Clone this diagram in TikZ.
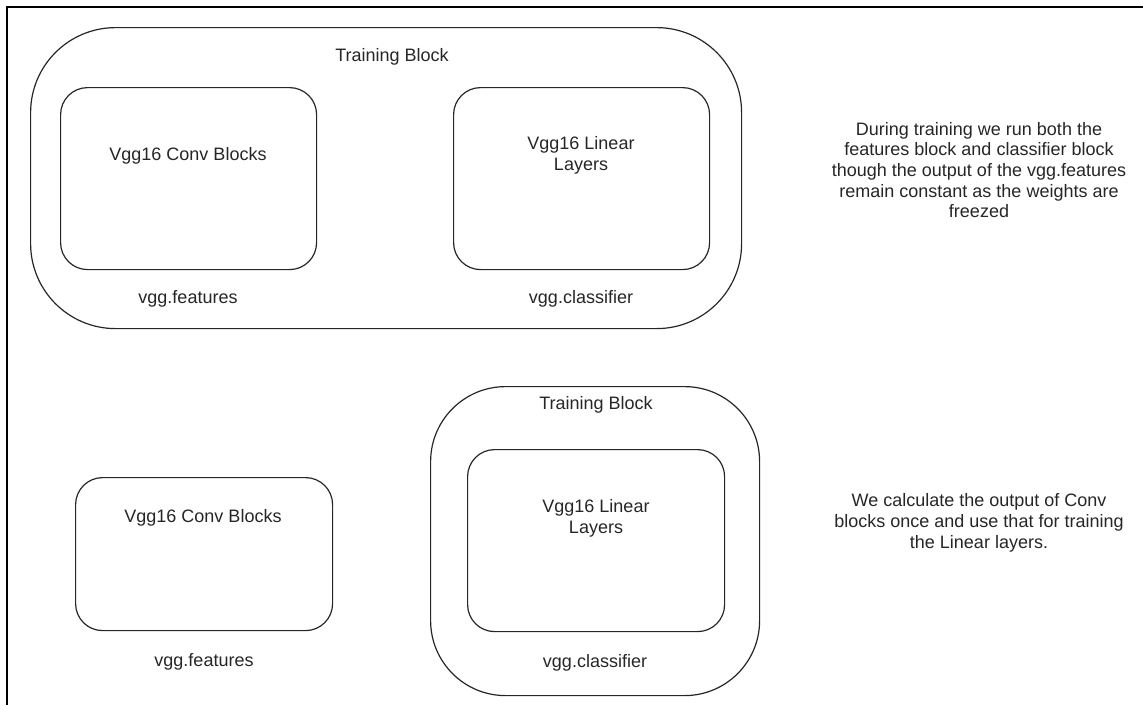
\documentclass[tikz,border=0pt]{standalone}
\usepackage{fontspec}
\setmainfont{Liberation Sans}
\tikzset{
  blk/.style={draw=black!85,rounded corners=#1,line width=1.2pt,inner sep=0pt,anchor=north west},
  blk/.default={27pt},
  lbl/.style={font=\fontsize{18}{20.7}\selectfont,align=center,inner sep=0pt,text=black!85},
}
\begin{document}
\begin{tikzpicture}[x=1pt,y=-1pt]
 \useasboundingbox (0,0) rectangle (1143,705);
 \draw[line width=2.5pt] (7,705) -- (7,7) -- (1143,7);
 \node[blk=85pt,minimum width=711pt,minimum height=301pt] (train1) at (30,27){};
 \node[blk,minimum width=256pt,minimum height=182pt] (conv1) at (60,87){};
 \node[blk,minimum width=256pt,minimum height=182pt] (lin1) at (453,87){};
 \node[lbl] (ttl1) at (392,57){Training Block};
 \node[lbl] (convtxt1) at (188,156){Vgg16 Conv Blocks}; \node[lbl] (lintxt1) at (581,155){Vgg16 Linear\\Layers};
 \node[lbl] (feat1) at (188,299){vgg.features}; \node[lbl] (cls1) at (581,299){vgg.classifier};
 \node[lbl] (note1) at (979,170){During training we run both the\\features block and classifier block\\though the output of the vgg.features\\remain constant as the weights are\\freezed};
 \node[blk=75pt,minimum width=329pt,minimum height=309pt] (train2) at (430,386){};
 \node[blk,minimum width=257pt,minimum height=182pt] (lin2) at (467,449){};
 \node[blk,minimum width=257pt,minimum height=153pt] (conv2) at (75,477){};
 \node[lbl] (ttl2) at (596,405){Training Block};
 \node[lbl] (convtxt2) at (203,518){Vgg16 Conv Blocks}; \node[lbl] (lintxt2) at (596,518){Vgg16 Linear\\Layers};
 \node[lbl] (feat2) at (204,662){vgg.features}; \node[lbl] (cls2) at (595,663){vgg.classifier};
 \node[lbl] (note2) at (979,523){We calculate the output of Conv\\blocks once and use that for training\\the Linear layers.};
\end{tikzpicture}
\end{document}
